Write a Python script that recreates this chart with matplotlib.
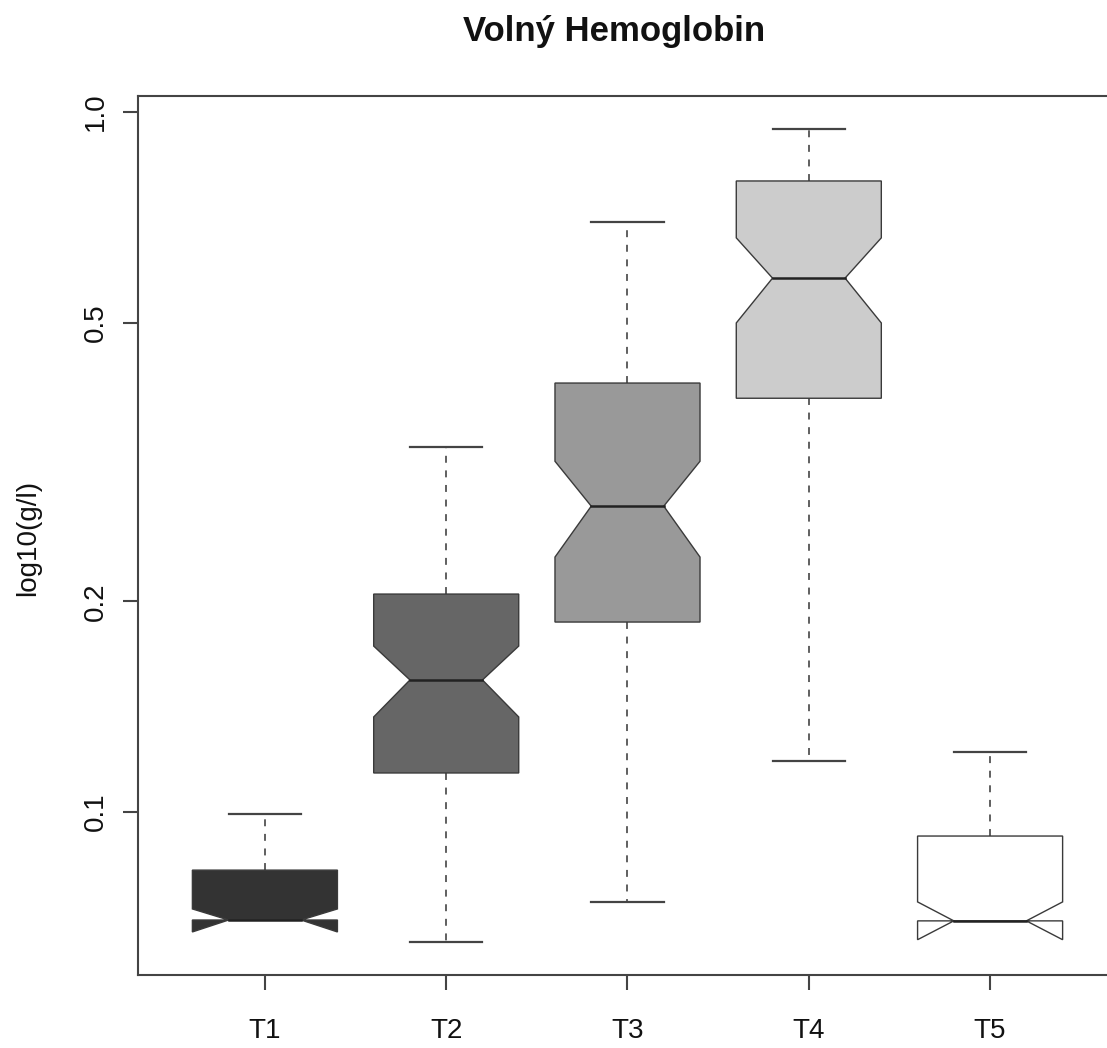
import matplotlib
matplotlib.use("Agg")
import matplotlib.pyplot as plt
from matplotlib.patches import Polygon

plt.rcParams['font.family'] = ['Liberation Sans', 'DejaVu Sans']

# notched boxplot stats per group (g/l)
groups = ["T1", "T2", "T3", "T4", "T5"]
lower_whisker = [0.0701, 0.0652, 0.0744, 0.1183, 0.0699]
q1 = [0.0701, 0.1137, 0.1868, 0.390, 0.0699]
notch_lo = [0.0674, 0.1367, 0.2313, 0.4996, 0.0657]
median = [0.0701, 0.1544, 0.2735, 0.579, 0.0699]
notch_hi = [0.0727, 0.1726, 0.317, 0.661, 0.0744]
q3 = [0.0826, 0.2048, 0.410, 0.797, 0.0924]
upper_whisker = [0.0994, 0.332, 0.697, 0.946, 0.1218]
fills = ["#333333", "#666666", "#999999", "#cccccc", "#ffffff"]

yticks = [0.1, 0.2, 0.5, 1.0]
ytick_labels = ["0.1", "0.2", "0.5", "1.0"]

W, H = 1107, 1048
fig = plt.figure(figsize=(W / 100, H / 100), dpi=100)
ax = fig.add_axes([138 / W, (H - 975) / H, (1117 - 138) / W, (975 - 96) / H])
ax.set_yscale('log')
ax.set_xlim(0.3, 5.7)
ax.set_ylim(0.0585, 1.054)

edge = "#3a3a3a"
wc = "#444444"
w = 0.4      # half box width
wn = 0.2     # half width at the notch
cap = 0.2    # half staple width
lw_wh = 1.2
dash = (0, (5.0 / lw_wh, 5.5 / lw_wh))

for i in range(len(groups)):
    x = i + 1
    xs = [x - w, x + w, x + w, x + wn, x + w, x + w, x - w, x - w, x - wn, x - w]
    ys = [q1[i], q1[i], notch_lo[i], median[i], notch_hi[i],
          q3[i], q3[i], notch_hi[i], median[i], notch_lo[i]]
    ax.add_patch(Polygon(list(zip(xs, ys)), closed=True, facecolor=fills[i],
                         edgecolor=edge, linewidth=1.0, zorder=3))
    ax.plot([x - wn, x + wn], [median[i], median[i]], color="#222222", lw=1.8, zorder=4)
    # whiskers and staples
    ax.plot([x, x], [q3[i], upper_whisker[i]], color=wc, lw=lw_wh, linestyle=dash, zorder=2)
    ax.plot([x - cap, x + cap], [upper_whisker[i], upper_whisker[i]], color=wc, lw=1.6, zorder=2)
    if lower_whisker[i] < q1[i]:
        ax.plot([x, x], [q1[i], lower_whisker[i]], color=wc, lw=lw_wh, linestyle=dash, zorder=2)
        ax.plot([x - cap, x + cap], [lower_whisker[i], lower_whisker[i]], color=wc, lw=1.6, zorder=2)

ax.set_xticks(range(1, len(groups) + 1))
ax.set_xticklabels(groups)
ax.set_yticks(yticks)
ax.set_yticklabels(ytick_labels, rotation=90, va='center')
ax.yaxis.set_minor_locator(matplotlib.ticker.NullLocator())

for s in ax.spines.values():
    s.set_color("#444444")
    s.set_linewidth(1.5)
ax.tick_params(axis='both', length=11, width=1.5, color="#444444", labelsize=20, labelcolor="#111111")
ax.tick_params(axis='x', pad=20)
ax.tick_params(axis='y', pad=10)

fig.text(614 / W, 1 - 31 / H, "Volný Hemoglobin", ha='center', va='center',
         fontsize=25, fontweight='bold', color="#111111")
fig.text(28 / W, 1 - 538 / H, "log10(g/l)", ha='center', va='center',
         rotation=90, fontsize=20, color="#111111")

fig.savefig("out.png", dpi=100)
